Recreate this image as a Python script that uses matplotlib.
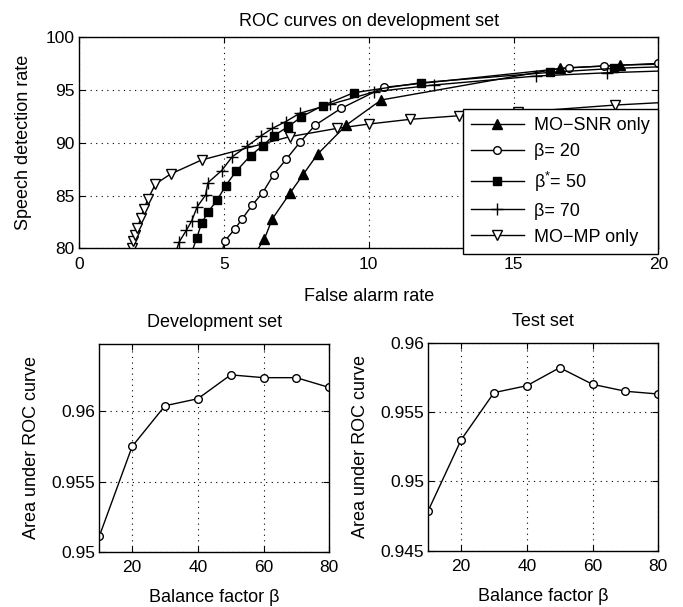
#!/usr/bin/env python3
import matplotlib
matplotlib.use('agg')
import matplotlib.pyplot as plt
import matplotlib.ticker as mticker

plt.rcParams['font.family'] = ['Liberation Sans', 'DejaVu Sans']
plt.rcParams['mathtext.fontset'] = 'custom'
plt.rcParams['mathtext.rm'] = 'Liberation Sans'
plt.rcParams['mathtext.it'] = 'Liberation Sans:italic'

# ROC curves on development set (false alarm rate, speech detection rate)
snr_fa = [6.10, 6.40, 6.67, 7.28, 7.74, 8.24, 9.23, 10.43, 16.61, 18.68, 20.0]
snr_pd = [79.6, 80.88, 82.78, 85.21, 87.01, 88.94, 91.69, 94.06, 97.06, 97.37, 97.45]

b20_fa = [4.93, 5.03, 5.38, 5.63, 5.98, 6.34, 6.72, 7.15, 7.64, 8.16, 9.05, 10.52, 16.93, 18.14, 19.98]
b20_pd = [79.6, 80.69, 81.83, 82.78, 84.10, 85.27, 86.99, 88.43, 90.10, 91.69, 93.27, 95.26, 97.12, 97.28, 97.53]

b50_fa = [3.90, 4.06, 4.23, 4.46, 4.77, 5.06, 5.43, 5.92, 6.34, 6.72, 7.22, 7.68, 8.41, 9.48, 11.81, 16.27, 18.48, 20.0]
b50_pd = [79.7, 80.95, 82.37, 83.47, 84.58, 85.93, 87.33, 88.78, 89.73, 90.67, 91.53, 92.47, 93.52, 94.75, 95.70, 96.68, 97.06, 97.2]

b70_fa = [3.35, 3.45, 3.71, 3.89, 4.08, 4.37, 4.45, 4.92, 5.29, 5.81, 6.29, 6.67, 7.13, 7.62, 8.68, 10.20, 12.24, 15.78, 18.22, 20.0]
b70_pd = [79.7, 80.57, 81.73, 82.60, 83.94, 85.05, 86.22, 87.36, 88.68, 89.70, 90.67, 91.37, 92.00, 92.80, 93.65, 94.84, 95.48, 96.33, 96.64, 96.8]

mp_fa = [1.84, 1.875, 1.93, 2.01, 2.13, 2.24, 2.38, 2.64, 3.16, 4.23, 7.27, 8.91, 10.0, 11.44, 13.13, 15.17, 18.5, 20.0]
mp_pd = [80.06, 80.7, 81.26, 81.95, 82.84, 83.73, 84.67, 86.1, 87.04, 88.37, 90.58, 91.37, 91.78, 92.23, 92.57, 92.9, 93.58, 93.8]

# area under ROC curve vs balance factor
beta = [10, 20, 30, 40, 50, 60, 70, 80]
auc_dev = [0.9511, 0.9575, 0.9604, 0.9609, 0.9626, 0.9624, 0.9624, 0.9617]
auc_test = [0.9479, 0.9530, 0.9564, 0.9569, 0.9582, 0.9570, 0.9565, 0.9563]

FS = 13
TFS = 12.5


def style_axes(ax):
    # matlab look: box, inward ticks, dotted grid
    ax.tick_params(direction='in', top=True, right=True, length=4, width=0.8,
                   labelsize=TFS)
    ax.tick_params(axis='x', pad=6)
    ax.tick_params(axis='y', pad=3)
    ax.grid(True, color='black', linestyle=(0, (1, 4)), linewidth=0.8)
    for s in ax.spines.values():
        s.set_linewidth(1.0)


def plot_roc(ax):
    kw = dict(color='black', linewidth=1.0)
    ax.plot(snr_fa, snr_pd, marker='^', markersize=6.5, markerfacecolor='black',
            markevery=slice(1, len(snr_fa) - 1), label='MO\u2212SNR only', **kw)
    ax.plot(b20_fa, b20_pd, marker='o', markersize=5.5, markerfacecolor='white',
            markevery=slice(1, None), label='\u03b2= 20', **kw)
    ax.plot(b50_fa, b50_pd, marker='s', markersize=5.5, markerfacecolor='black',
            markevery=slice(1, len(b50_fa) - 1), label='\u03b2$^{*}$= 50', **kw)
    ax.plot(b70_fa, b70_pd, marker='+', markersize=8, markeredgewidth=1.0,
            markevery=slice(1, len(b70_fa) - 1), label='\u03b2= 70', **kw)
    ax.plot(mp_fa, mp_pd, marker='v', markersize=7, markerfacecolor='white',
            markevery=slice(0, len(mp_fa) - 1), label='MO\u2212MP only', **kw)
    ax.set_xlim(0, 20)
    ax.set_ylim(80, 100)
    ax.set_xticks([0, 5, 10, 15, 20])
    ax.set_yticks([80, 85, 90, 95, 100])
    style_axes(ax)
    ax.set_title('ROC curves on development set', fontsize=FS, pad=8)
    ax.set_xlabel('False alarm rate', fontsize=FS, labelpad=12)
    ax.set_ylabel('Speech detection rate', fontsize=FS, labelpad=10)
    leg = ax.legend(loc='upper left', bbox_to_anchor=(0.662, 0.659), borderaxespad=0,
                    fontsize=FS, handlelength=2.95, handletextpad=0.55,
                    borderpad=0.45, labelspacing=0.5, numpoints=1,
                    fancybox=False, framealpha=1, edgecolor='black')
    leg.get_frame().set_linewidth(1.0)


def plot_auc(ax, auc, title, ylim, yticks):
    ax.plot(beta, auc, color='black', linewidth=1.0, marker='o', markersize=5.5,
            markerfacecolor='white')
    ax.set_xlim(10, 80)
    ax.set_ylim(*ylim)
    ax.set_xticks([20, 40, 60, 80])
    ax.set_yticks(yticks)
    ax.yaxis.set_major_formatter(mticker.FormatStrFormatter('%g'))
    style_axes(ax)
    ax.set_title(title, fontsize=FS, pad=12)
    ax.set_xlabel('Balance factor \u03b2', fontsize=FS, labelpad=10)
    ax.set_ylabel('Area under ROC curve', fontsize=FS, labelpad=8)


fig = plt.figure(figsize=(6.83, 6.07), dpi=100)
ax_roc = fig.add_axes([0.1157, 0.5909, 0.8482, 0.3476])
ax_dev = fig.add_axes([0.1454, 0.0911, 0.3367, 0.3422])
ax_test = fig.add_axes([0.6271, 0.0927, 0.3367, 0.3427])

plot_roc(ax_roc)
plot_auc(ax_dev, auc_dev, 'Development set', (0.95, 0.9648), [0.95, 0.955, 0.96])
plot_auc(ax_test, auc_test, 'Test set', (0.945, 0.96), [0.945, 0.95, 0.955, 0.96])

fig.savefig('out.png', dpi=100)
plt.close('all')
